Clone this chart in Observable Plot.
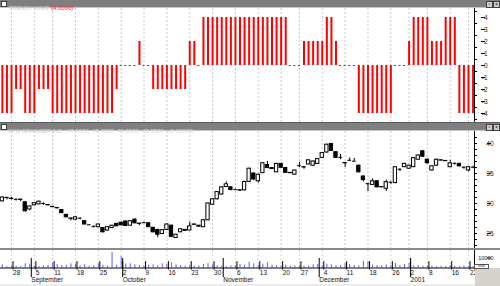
<!DOCTYPE html>
<html><head><meta charset="utf-8">
<script src="https://cdn.jsdelivr.net/npm/d3@7"></script>
<script src="https://cdn.jsdelivr.net/npm/@observablehq/plot@0.6"></script>
<style>
body{margin:0;background:#fff;}
#wrap{position:relative;width:500px;height:286px;overflow:hidden;background:#fff;font-family:"Liberation Sans",Arial,sans-serif;}
.abs{position:absolute;}
.tbar{position:absolute;left:0;width:500px;background:#7f7f7f;border-bottom:1px solid #c4c4c4;box-sizing:border-box;}
.ttl{position:absolute;line-height:7px;white-space:nowrap;}
.ttl .n{font-size:6px;letter-spacing:-0.3px;color:#cfcfcf;}
.sq{position:absolute;width:4px;height:4px;background:#fff;border:1px solid #404040;}
.btn{position:absolute;width:5px;height:5px;background:#d4d0c8;border:1px solid #404040;font-size:5px;line-height:5px;text-align:center;color:#000;}
</style></head>
<body><div id="wrap"></div>
<script>
// ---------- data ----------
const tickIdx    = [2,7,11,16,21,26,31,36,41,46,51,56,61,65,70,75,80,85,89,93,98,102];
const tickLabels = ["28","5","11","18","25","2","9","16","23","30","6","13","20","27","4","11","18","26","2","8","16","22"];
const monthIdx    = [6,26,48,69,89];
const monthLabels = ["September","October","November","December","2001"];

const wave = [
-4,-4,-4,-2,-2,-4,-4,-4,-2,-2,
-2,-4,-4,-4,-4,-4,-4,-4,-4,-4,
-4,-4,-4,-4,-4,-2,0,0,0,0,
2,0,0,-2,-2,-2,-2,-2,-2,-2,
-2,2,2,0,4,4,4,4,4,4,
4,4,4,4,4,4,4,4,4,4,
4,4,4,0,0,0,2,2,2,2,
2,4,4,2,0,0,0,0,-4,-4,
-4,-4,-4,-4,-4,-4,0,0,0,2,
4,4,4,4,2,2,2,4,4,4,
-4,-4,-4,-4];

const open = [
30.35,30.9,30.8,30.7,30.65,30.2,29.0,29.7,29.85,30.0,
29.75,29.45,29.25,28.9,28.1,27.5,27.3,27.55,27.05,26.45,
26.2,26.05,25.9,25.5,25.9,26.6,26.8,27.0,26.3,27.3,
26.65,26.8,26.7,25.95,25.6,24.9,25.6,26.3,24.25,25.2,
25.6,25.5,26.5,26.3,26.05,27.2,29.8,30.7,31.5,32.75,
32.7,32.3,32.2,32.2,33.6,35.0,33.7,35.05,36.4,35.9,
35.2,36.6,35.9,35.1,34.8,36.3,36.05,36.5,36.3,36.6,
37.6,38.5,39.9,38.55,37.7,36.75,37.2,37.05,36.3,34.5,
33.3,33.1,33.7,32.75,32.45,33.55,33.4,35.7,36.05,35.8,
36.05,37.3,38.7,37.3,35.5,36.3,37.2,37.1,36.05,36.7,
36.6,36.05,35.5,36.05];
const high = [
31.1,31.0,31.0,30.75,30.7,30.3,29.6,30.1,30.4,30.1,
29.8,29.5,29.3,29.0,28.2,27.55,27.75,27.6,27.1,26.5,
26.25,26.55,26.0,26.1,26.35,26.7,26.9,27.1,27.1,27.5,
26.7,26.9,26.8,26.0,25.7,25.6,26.6,26.4,24.9,25.75,
25.65,26.9,26.6,26.35,27.3,30.1,30.8,32.0,32.8,33.6,
32.8,32.4,32.3,33.7,35.9,35.1,34.9,36.8,37.0,35.95,
36.7,36.7,35.95,35.15,35.55,36.85,36.1,37.25,37.1,37.5,
38.5,39.9,40.0,38.6,38.2,36.8,37.6,37.5,36.4,34.6,
33.4,34.1,33.8,32.8,33.9,33.6,36.1,35.8,36.7,36.4,
37.6,38.1,38.8,37.4,36.3,37.4,37.3,37.15,37.2,36.75,
36.7,36.1,36.1,36.2];
const low = [
30.3,30.6,30.6,30.4,30.3,28.6,28.8,29.6,29.8,29.7,
29.6,29.3,29.1,28.3,27.6,27.1,27.25,27.3,26.45,26.35,
25.9,26.0,25.1,25.4,25.85,26.15,26.3,26.2,26.25,26.6,
26.3,26.7,26.0,25.1,24.3,24.85,25.5,24.3,24.2,25.15,
25.4,25.45,26.4,26.0,26.0,27.1,29.7,30.6,31.4,32.7,
32.1,32.2,32.0,32.1,33.5,33.8,33.4,35.0,35.85,35.7,
35.15,35.9,35.05,35.0,34.75,36.0,35.7,36.45,36.25,36.5,
37.5,38.4,38.7,37.5,37.3,36.0,37.1,37.0,35.1,33.6,
32.0,33.0,32.6,32.6,32.0,33.2,33.3,35.3,36.0,35.7,
36.0,37.25,37.7,36.6,35.4,36.2,37.1,37.0,36.0,36.4,
36.1,35.7,35.3,35.8];
const close = [
31.0,30.95,30.75,30.7,30.6,28.7,29.5,30.05,30.3,30.0,
29.7,29.4,29.2,28.4,27.7,27.45,27.7,27.55,26.5,26.45,
26.2,26.5,25.2,26.05,26.3,26.2,26.35,26.25,27.05,26.7,
26.6,26.8,26.05,25.2,24.8,25.55,26.5,24.45,24.8,25.7,
25.45,26.2,26.45,26.15,27.2,30.0,30.7,31.9,32.7,33.2,
32.25,32.3,32.15,33.6,35.8,34.0,34.8,36.7,35.9,35.75,
36.6,35.95,35.1,35.05,35.5,36.3,36.0,37.2,37.0,37.4,
38.4,39.8,38.75,37.6,37.7,36.7,37.2,37.05,35.2,33.9,
33.3,33.7,32.7,32.7,33.55,33.55,36.05,35.7,36.6,36.3,
37.55,38.0,37.8,36.7,36.2,37.3,37.15,37.05,36.7,36.7,
36.2,36.05,36.05,36.05];
const volume = [
4500,2000,3000,2500,2000,6000,5500,3000,2500,3000,
3500,7500,5000,3500,4000,6000,5500,3000,4500,2500,
3000,6000,4000,2500,22000,4000,16500,5500,6000,4500,
3500,2500,4000,4500,3000,6000,5000,7500,4500,3500,
2500,4000,2500,3000,5000,6500,4500,3000,2500,2000,
3000,3500,5000,4000,8000,6000,4000,5500,7500,4000,
3500,3000,4000,2500,3000,3500,2500,3000,4500,5000,
3000,5500,4500,3000,3500,6000,5000,3500,3000,9500,
9000,4000,3500,3000,4500,3000,6500,3500,5000,6500,
3000,3500,2500,3000,2500,2000,2500,2000,3500,2500,
2000,3000,2500,2000];

const waveTicks = [4,3,2,1,0,-1,-2,-3,-4];
const priceTicks = [40,35,30,25];
const volTicks = [10000];

// ---------- build ----------
const days = d3.range(wave.length).map(i => ({i, w: wave[i], o: open[i], h: high[i], l: low[i], c: close[i], v: volume[i]}));
const xDomain = [-0.41, 103.31];
const xEnd = xDomain[1];
const font = {fontFamily: '"Liberation Sans",Arial,sans-serif', fontSize: "6.5px", background: "transparent", overflow: "visible", color: "#222"};
const grid = (mt, mb) => Plot.ruleX(tickIdx, {stroke: "#c8c8c8", strokeDasharray: "2,2", insetTop: -mt, insetBottom: -mb});
const axisLine = (mt, mb) => Plot.ruleX([xEnd], {stroke: "#000", insetTop: -mt, insetBottom: -mb});
const minorY = (ticks) => Plot.axisY(ticks, {anchor: "right", tickSize: 2, text: null, label: null, stroke: "#000"});
const majorY = (ticks, dx, extra = {}) => Plot.axisY(ticks, {anchor: "right", tickSize: 4, tickPadding: 3, textAnchor: "end", dx, label: null, tickFormat: d => String(d), stroke: "#000", fill: "#222", ...extra});

const wrap = document.getElementById("wrap");
function place(node, top) { node.style.position = "absolute"; node.style.left = "0px"; node.style.top = top + "px"; wrap.appendChild(node); }

// top panel (Trendy wave)
const pTop = Plot.plot({
  width: 500, height: 114, marginTop: 9, marginBottom: 9, marginLeft: 0, marginRight: 26,
  style: font,
  x: {domain: xDomain, axis: null, label: null},
  y: {domain: [-4, 4], axis: null, label: null},
  marks: [
    grid(9, 9),
    Plot.ruleX(days.filter(d => d.w !== 0), {x: "i", y1: 0, y2: "w", stroke: "#ff0000", strokeWidth: 2}),
    Plot.ruleY(days.filter(d => d.w === 0), {y: 0, x1: d => d.i - 0.22, x2: d => d.i + 0.22, stroke: "#ff0000", strokeWidth: 1}),
    minorY(d3.range(-4.5, 4.6, 1)),
    majorY(waveTicks, 6),
    axisLine(9, 9)
  ]
});
place(pTop, 8);

// candle panel
const doji = days.filter(d => Math.abs(d.o - d.c) < 0.02);
const bodies = days.filter(d => Math.abs(d.o - d.c) >= 0.02);
const pMid = Plot.plot({
  width: 500, height: 117, marginTop: 12, marginBottom: 15, marginLeft: 0, marginRight: 26,
  style: font,
  x: {domain: xDomain, axis: null, label: null},
  y: {domain: [25, 40], axis: null, label: null},
  marks: [
    grid(12, 15),
    Plot.ruleX(days, {x: "i", y1: "l", y2: "h", stroke: "#000", strokeWidth: 1}),
    Plot.rect(bodies, {x1: d => d.i - 0.36, x2: d => d.i + 0.36, y1: "o", y2: "c", fill: d => d.c >= d.o ? "#fff" : "#000", stroke: "#000", strokeWidth: 1}),
    Plot.ruleY(doji, {y: "c", x1: d => d.i - 0.4, x2: d => d.i + 0.4, stroke: "#000", strokeWidth: 1}),
    minorY(d3.range(23, 42, 1)),
    majorY(priceTicks, 12),
    axisLine(12, 15)
  ]
});
place(pMid, 131);

// volume panel + date axis
const pVol = Plot.plot({
  width: 500, height: 36, marginTop: 10.5, marginBottom: 18.5, marginLeft: 0, marginRight: 26,
  style: font,
  x: {domain: xDomain, axis: null, label: null},
  y: {domain: [0, 10000], axis: null, label: null},
  marks: [
    Plot.ruleX(tickIdx, {stroke: "#d4d4d4", strokeDasharray: "2,2", insetTop: -10.5}),
    Plot.ruleX(days, {x: "i", y1: 0, y2: "v", stroke: "#5b5bff", strokeWidth: 1}),
    Plot.ruleY([0], {stroke: "#000"}),
    majorY(volTicks, 12, {dy: -3, fontSize: 5.5}),
    Plot.ruleX([xEnd], {stroke: "#000", insetTop: -10.5, insetBottom: -2}),
    Plot.axisX(tickIdx, {anchor: "bottom", tickSize: 8.5, tickPadding: 0, label: null, textAnchor: "start", dx: 1.5, dy: -6.4, tickFormat: d => tickLabels[tickIdx.indexOf(d)], stroke: "#000", fill: "#111"}),
    Plot.axisX(monthIdx, {anchor: "bottom", tickSize: 19, tickPadding: 0, label: null, textAnchor: "start", dx: 1.5, dy: -9.5, tickFormat: d => monthLabels[monthIdx.indexOf(d)], stroke: "#000", fill: "#111"})
  ]
});
place(pVol, 250);

// ---------- decorations (panel title bars etc.) ----------
function div(cls, css, html) { const e = document.createElement("div"); e.className = cls; e.style.cssText = css; if (html) e.innerHTML = html; wrap.appendChild(e); return e; }
div("tbar", "top:0;height:8px;");
div("sq", "left:1px;top:1px;");
div("ttl", "left:9px;top:0.5px;", '<span class="n">TRENDY WAVE</span><span style="font-size:6px;color:#ff1a1a;margin-left:2px;">(4.0000)</span>');
div("btn", "left:486px;top:0.5px;", "▫");
div("btn", "left:493px;top:0.5px;", "×");

div("tbar", "top:122px;height:9px;border-top:1px solid #5a5a5a;border-bottom:1px solid #c4c4c4;");
div("sq", "left:1px;top:124px;");
div("ttl", "left:8px;top:123.5px;", '<span class="n">W W GRAINGER INC</span><span style="font-size:6px;color:#dedede;margin-left:3px;">(43.0600, 43.4000, 43.0600, 43.3800, +0.19000)</span>');
div("btn", "left:486px;top:123.5px;", "▫");
div("btn", "left:493px;top:123.5px;", "×");

div("abs", "left:0;top:248px;width:500px;height:2px;background:#8a8a8a;");
div("abs", "left:475px;top:268px;width:25px;height:18px;background:#d6d3ce;");
div("abs", "left:474px;top:263.5px;width:13px;height:3px;border:1px solid #555;background:#fff;font-size:3px;line-height:3px;color:#000;text-align:center;", "x100");
div("abs", "left:0;top:284px;width:475px;height:2px;background:#ececec;");
</script>
</body></html>
